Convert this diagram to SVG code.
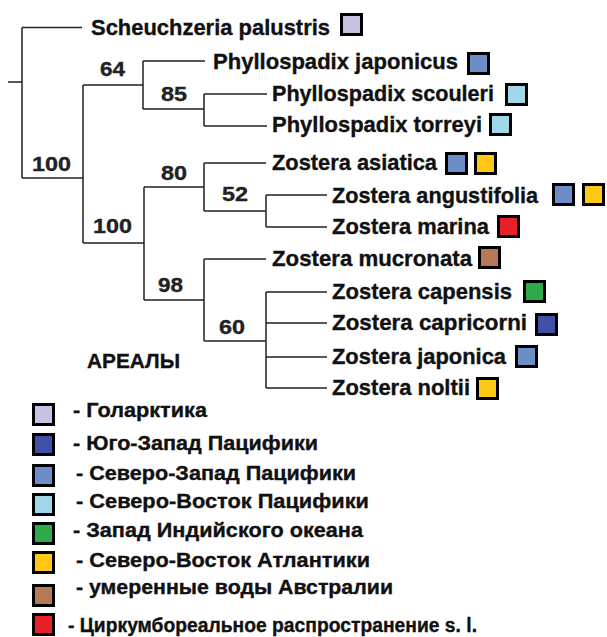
<svg xmlns="http://www.w3.org/2000/svg" width="607" height="637" viewBox="0 0 607 637">
<style>
.ln{fill:none;stroke:#222;stroke-width:1.5}
text{font-family:"Liberation Sans",Arial,sans-serif;font-weight:bold;fill:#111;stroke:#111;stroke-width:0.35}
.sp{font-size:22px}
.num{font-size:20px;fill:#222;stroke:#222}
.lg{font-size:20px}
.hd{font-size:21px}
.bx{stroke:#000;stroke-width:3}
.c1{fill:#c9c3e3}.c2{fill:#4050a8}.c3{fill:#6b8ec6}.c4{fill:#a0d8ea}
.c5{fill:#2eaa4a}.c6{fill:#ffc814}.c7{fill:#b47a58}.c8{fill:#e8202a}
</style>
<rect width="607" height="637" fill="#fff"/>
<g id="connectors">
<path class="ln" d="M8,82H22M22,27.5V178M22,27.5H82M22,178H83M83,85V243M83,85H143M143,61V109M143,61H205M143,109H204M204,94V126M204,94H267M204,126H267M83,243H144M144,187V300M144,187H204M204,163V211M204,163H266M204,211H266M266,195V227M266,195H327M266,227H327M144,300H204M204,259V341M204,259H266M204,341H266M266,292V388M266,292H327M266,323H327M266,357H327M266,388H327"/>
</g>
<g id="support">
<text class="num" x="100" y="76" textLength="25" lengthAdjust="spacingAndGlyphs">64</text>
<text class="num" x="161" y="101" textLength="26" lengthAdjust="spacingAndGlyphs">85</text>
<text class="num" x="32" y="171" textLength="39" lengthAdjust="spacingAndGlyphs">100</text>
<text class="num" x="161" y="180" textLength="26" lengthAdjust="spacingAndGlyphs">80</text>
<text class="num" x="222" y="201" textLength="26" lengthAdjust="spacingAndGlyphs">52</text>
<text class="num" x="93" y="233" textLength="39" lengthAdjust="spacingAndGlyphs">100</text>
<text class="num" x="158" y="292" textLength="25" lengthAdjust="spacingAndGlyphs">98</text>
<text class="num" x="219" y="334" textLength="26" lengthAdjust="spacingAndGlyphs">60</text>
</g>
<g id="scheuchzeria"><text class="sp" x="91" y="35" textLength="239" lengthAdjust="spacingAndGlyphs">Scheuchzeria palustris</text><rect class="bx c1" x="341.5" y="14.5" width="20" height="20"/></g>
<g id="ph-japonicus"><text class="sp" x="213" y="69" textLength="245" lengthAdjust="spacingAndGlyphs">Phyllospadix  japonicus</text><rect class="bx c3" x="468.5" y="53.5" width="20" height="20"/></g>
<g id="ph-scouleri"><text class="sp" x="272" y="101" textLength="222" lengthAdjust="spacingAndGlyphs">Phyllospadix scouleri</text><rect class="bx c4" x="506.5" y="84.5" width="20" height="20"/></g>
<g id="ph-torreyi"><text class="sp" x="272" y="132" textLength="210" lengthAdjust="spacingAndGlyphs">Phyllospadix torreyi</text><rect class="bx c4" x="490.5" y="114.5" width="20" height="20"/></g>
<g id="z-asiatica"><text class="sp" x="272" y="170" textLength="165" lengthAdjust="spacingAndGlyphs">Zostera asiatica</text><rect class="bx c3" x="446.5" y="153.5" width="20" height="20"/><rect class="bx c6" x="475.5" y="153.5" width="20" height="20"/></g>
<g id="z-angustifolia"><text class="sp" x="332" y="203" textLength="206" lengthAdjust="spacingAndGlyphs">Zostera angustifolia</text><rect class="bx c3" x="553.5" y="184.5" width="20" height="20"/><rect class="bx c6" x="583.5" y="184.5" width="20" height="20"/></g>
<g id="z-marina"><text class="sp" x="332" y="234" textLength="157" lengthAdjust="spacingAndGlyphs">Zostera marina</text><rect class="bx c8" x="498.5" y="216.5" width="20" height="20"/></g>
<g id="z-mucronata"><text class="sp" x="272" y="266" textLength="200" lengthAdjust="spacingAndGlyphs">Zostera mucronata</text><rect class="bx c7" x="479.5" y="247.5" width="20" height="20"/></g>
<g id="z-capensis"><text class="sp" x="332" y="299" textLength="180" lengthAdjust="spacingAndGlyphs">Zostera capensis</text><rect class="bx c5" x="524.5" y="281.5" width="20" height="20"/></g>
<g id="z-capricorni"><text class="sp" x="332" y="330" textLength="195" lengthAdjust="spacingAndGlyphs">Zostera capricorni</text><rect class="bx c2" x="536.5" y="314.5" width="20" height="20"/></g>
<g id="z-japonica"><text class="sp" x="332" y="364" textLength="174" lengthAdjust="spacingAndGlyphs">Zostera japonica</text><rect class="bx c3" x="516.5" y="346.5" width="20" height="20"/></g>
<g id="z-noltii"><text class="sp" x="332" y="395" textLength="138" lengthAdjust="spacingAndGlyphs">Zostera noltii</text><rect class="bx c6" x="477.5" y="378.5" width="20" height="20"/></g>
<g id="legend">
<text class="hd" x="87" y="368" textLength="93" lengthAdjust="spacingAndGlyphs">АРЕАЛЫ</text>
<rect class="bx c1" x="33.5" y="404.5" width="20" height="20"/><text class="lg" x="73" y="417" textLength="134" lengthAdjust="spacingAndGlyphs">- Голарктика</text>
<rect class="bx c2" x="33.5" y="434.5" width="20" height="20"/><text class="lg" x="73" y="450" textLength="245" lengthAdjust="spacingAndGlyphs">- Юго-Запад Пацифики</text>
<rect class="bx c3" x="33.5" y="465.5" width="20" height="20"/><text class="lg" x="76" y="480" textLength="280" lengthAdjust="spacingAndGlyphs">- Северо-Запад Пацифики</text>
<rect class="bx c4" x="33.5" y="494.5" width="20" height="20"/><text class="lg" x="76" y="508" textLength="293" lengthAdjust="spacingAndGlyphs">- Северо-Восток Пацифики</text>
<rect class="bx c5" x="33.5" y="523.5" width="20" height="20"/><text class="lg" x="73" y="537" textLength="290" lengthAdjust="spacingAndGlyphs">- Запад Индийского океана</text>
<rect class="bx c6" x="33.5" y="552.5" width="20" height="20"/><text class="lg" x="76" y="567" textLength="294" lengthAdjust="spacingAndGlyphs">- Северо-Восток Атлантики</text>
<rect class="bx c7" x="33.5" y="585.5" width="20" height="20"/><text class="lg" x="76" y="594" textLength="317" lengthAdjust="spacingAndGlyphs">- умеренные воды Австралии</text>
<rect class="bx c8" x="33.5" y="614.5" width="20" height="20"/><text class="lg" x="68" y="632" textLength="409" lengthAdjust="spacingAndGlyphs">- Циркумбореальное распространение s. l.</text>
</g>
</svg>
